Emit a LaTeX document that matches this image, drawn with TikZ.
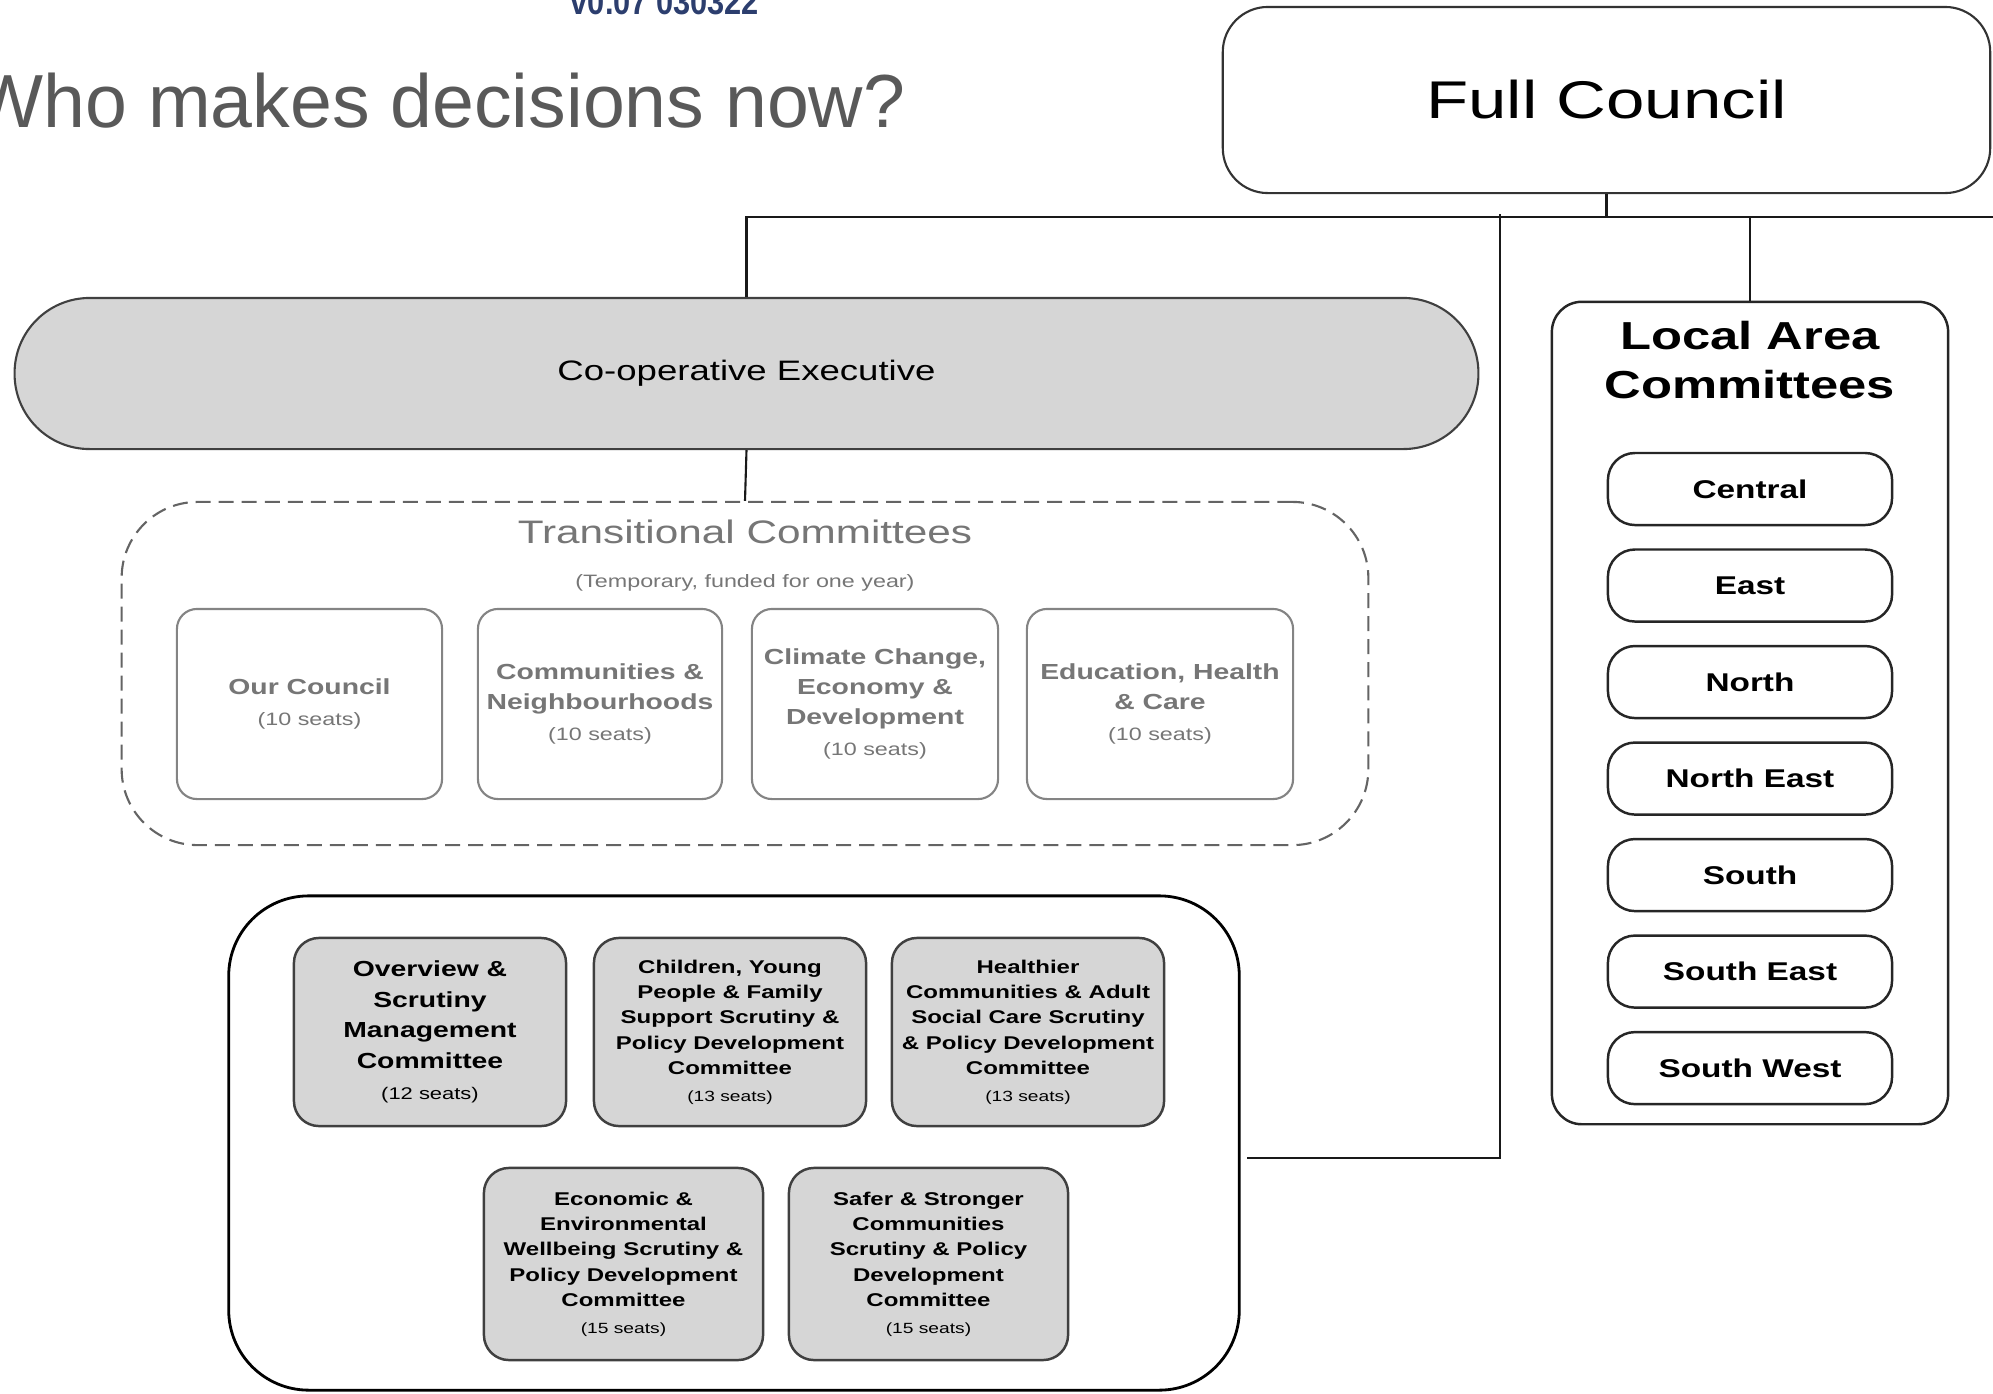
\documentclass[tikz,border=0pt]{standalone}
\usepackage{fontspec}
\setmainfont{Liberation Sans}[FakeStretch=1.3]
\newfontfamily\titlefont{Liberation Sans}
\newfontfamily\versionfont{Liberation Sans}[FakeStretch=0.85]
\usetikzlibrary{positioning}
\definecolor{titlegray}{HTML}{595959}
\definecolor{transgray}{HTML}{767676}
\definecolor{boxfill}{HTML}{D6D6D6}
\definecolor{boxline}{HTML}{404040}
\definecolor{versionblue}{HTML}{2C3E6E}
\newcommand{\tseats}{\mdseries\fontsize{5.1pt}{6pt}\selectfont}
\newcommand{\oseats}{\mdseries\fontsize{4.8pt}{6pt}\selectfont}
\newcommand{\sseats}{\mdseries\fontsize{4.2pt}{5pt}\selectfont}

\begin{document}
\begin{tikzpicture}[
    x=0.01cm, y=-0.01cm,
    link/.style = {draw=black!90, line width=0.6pt},
    council/.style = {draw=black!80, line width=0.6pt, rounded corners=0.45cm, inner sep=0pt,
        font=\fontsize{15.1pt}{18pt}\selectfont},
    execbox/.style = {draw=boxline, line width=0.6pt, fill=boxfill, rounded corners=0.75cm, inner sep=0pt,
        font=\fontsize{8pt}{10pt}\selectfont},
    transbox/.style = {draw=transgray!90, line width=0.6pt, rounded corners=0.2cm, fill=white,
        minimum height=1.9cm, inner sep=0pt, align=center, text=transgray,
        font=\bfseries\fontsize{6.2pt}{8.5pt}\selectfont},
    scrutbox/.style = {draw=boxline, line width=0.7pt, fill=boxfill, rounded corners=0.25cm,
        inner sep=0pt, align=center, font=\bfseries\fontsize{5.25pt}{7.2pt}\selectfont},
    areabox/.style = {draw=black!85, line width=0.7pt, rounded corners=0.27cm, fill=white,
        minimum width=2.84cm, minimum height=0.72cm, inner sep=0pt,
        font=\bfseries\fontsize{7.3pt}{9pt}\selectfont}
]
    \useasboundingbox (0,0) rectangle (1993,1393);

    \node[anchor=base east, inner sep=0pt, text=titlegray,
        font=\titlefont\fontsize{21.4pt}{25pt}\selectfont] (title) at (906,127) {Who makes decisions now?};
    \node[anchor=base, inner sep=0pt, text=versionblue,
        font=\versionfont\bfseries\fontsize{10.3pt}{12pt}\selectfont] (version) at (665,14) {v0.07 030322};

    \node[council, minimum width=7.67cm, minimum height=1.86cm] (full) at (1606.5,100) {Full Council};
    \node[execbox, minimum width=14.63cm, minimum height=1.51cm] (coop) at (746.5,373.5) {Co-operative Executive};

    \node[draw=transgray!85!black, line width=0.6pt, dash pattern=on 0.15cm off 0.08cm,
        rounded corners=0.76cm, minimum width=12.46cm, minimum height=3.43cm] (trans) at (745,673.5) {};
    \node[anchor=base, inner sep=0pt, text=transgray, font=\fontsize{9.25pt}{11pt}\selectfont]
        (transtitle) at (745,543) {Transitional Committees};
    \node[anchor=base, inner sep=0pt, text=transgray, font=\fontsize{5.1pt}{6pt}\selectfont]
        (transnote) at (745,587) {(Temporary, funded for one year)};
    \node[transbox, minimum width=2.65cm] (ourcouncil) at (309.5,704) {Our Council\\[0.5pt]{\tseats (10 seats)}};
    \node[transbox, minimum width=2.44cm] (communities) at (600,704) {Communities \&\\Neighbourhoods\\[0.5pt]{\tseats (10 seats)}};
    \node[transbox, minimum width=2.46cm] (climate) at (875,704) {Climate Change,\\Economy \&\\Development\\[0.5pt]{\tseats (10 seats)}};
    \node[transbox, minimum width=2.66cm] (education) at (1160,704) {Education, Health\\\& Care\\[0.5pt]{\tseats (10 seats)}};

    \node[draw=black, line width=0.8pt, rounded corners=0.8cm, minimum width=10.1cm, minimum height=4.94cm] (scrutiny) at (734,1143) {};
    \node[scrutbox, minimum width=2.72cm, minimum height=1.88cm, font=\bfseries\fontsize{6.2pt}{8.7pt}\selectfont]
        (overview) at (430,1032) {Overview \&\\Scrutiny\\Management\\Committee\\[0.3pt]{\oseats (12 seats)}};
    \node[scrutbox, minimum width=2.72cm, minimum height=1.88cm] (children) at (730,1032)
        {Children, Young\\People \& Family\\Support Scrutiny \&\\Policy Development\\Committee\\[0.4pt]{\sseats (13 seats)}};
    \node[scrutbox, minimum width=2.72cm, minimum height=1.88cm] (healthier) at (1028,1032)
        {Healthier\\Communities \& Adult\\Social Care Scrutiny\\\& Policy Development\\Committee\\[0.4pt]{\sseats (13 seats)}};
    \node[scrutbox, minimum width=2.79cm, minimum height=1.92cm] (economic) at (623.5,1264)
        {Economic \&\\Environmental\\Wellbeing Scrutiny \&\\Policy Development\\Committee\\[0.4pt]{\sseats (15 seats)}};
    \node[scrutbox, minimum width=2.79cm, minimum height=1.92cm] (safer) at (928.5,1264)
        {Safer \& Stronger\\Communities\\Scrutiny \& Policy\\Development\\Committee\\[0.4pt]{\sseats (15 seats)}};

    \node[draw=black!85, line width=0.7pt, rounded corners=0.3cm, minimum width=3.96cm, minimum height=8.22cm] (lac) at (1750,713) {};
    \node[align=center, inner sep=0pt, font=\bfseries\fontsize{11.1pt}{13.7pt}\selectfont] (lactitle) at (1750,360) {Local Area\\Committees};
    \node[areabox] (central) at (1750,489) {Central};
    \node[areabox, below=0.22cm of central] (east) {East};
    \node[areabox, below=0.22cm of east] (north) {North};
    \node[areabox, below=0.22cm of north] (northeast) {North East};
    \node[areabox, below=0.22cm of northeast] (south) {South};
    \node[areabox, below=0.22cm of south] (southeast) {South East};
    \node[areabox, below=0.22cm of southeast] (southwest) {South West};

    \coordinate (edge) at (1993,217);
    \coordinate (fork) at (1500,214);
    \coordinate (scrutlink) at (1247,1158);
    \draw[link] (full.south) -- (full.south |- edge);
    \draw[link] (coop.north) |- (edge);
    \draw[link] (lac.north) -- (lac.north |- edge);
    \draw[link] (fork) |- (scrutlink);
    \draw[link] (coop.south) -- (trans.north);
\end{tikzpicture}
\end{document}
